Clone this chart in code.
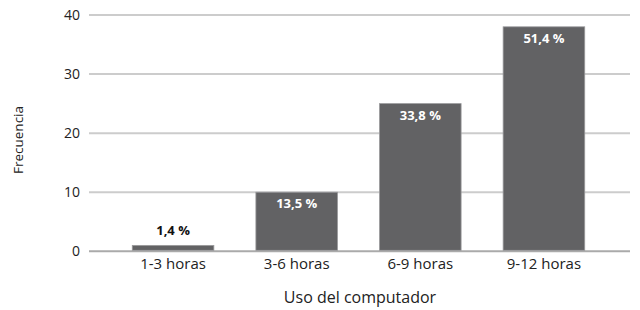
<!DOCTYPE html>
<html>
<head>
<meta charset="utf-8">
<script src="https://cdn.jsdelivr.net/npm/d3@7"></script>
<style>
  body { margin: 0; background: #fff; }
  text { font-family: "Open Sans", "Noto Sans", sans-serif; }
</style>
</head>
<body>
<div id="chart"></div>
<script>
// data
var categories = ["1-3 horas", "3-6 horas", "6-9 horas", "9-12 horas"];
var frecuencia = [1, 10, 25, 38];
var porcentajes = ["1,4 %", "13,5 %", "33,8 %", "51,4 %"];
var yTicks = [0, 10, 20, 30, 40];

var width = 640, height = 310;
var margin = { top: 15, right: 10, bottom: 59, left: 89 };

var svg = d3
  .select("#chart")
  .append("svg")
  .attr("width", width)
  .attr("height", height);

var x = d3
  .scaleBand()
  .domain(categories)
  .range([margin.left, 628])
  .paddingInner(0.34)
  .paddingOuter(0.35);

var y = d3
  .scaleLinear()
  .domain([0, 40])
  .range([height - margin.bottom + 0.3, margin.top]);

// gridlines
svg
  .append("g")
  .selectAll("line")
  .data(yTicks)
  .enter()
  .append("line")
  .attr("x1", margin.left)
  .attr("x2", 630)
  .attr("y1", (d) => y(d))
  .attr("y2", (d) => y(d))
  .attr("stroke", (d) => (d === 0 ? "#aaaaaa" : "#cccccc"))
  .attr("stroke-width", 2);

// y tick labels
svg
  .append("g")
  .selectAll("text")
  .data(yTicks)
  .enter()
  .append("text")
  .attr("x", 80)
  .attr("y", (d) => y(d))
  .attr("dy", "0.35em")
  .attr("text-anchor", "end")
  .attr("font-size", 14)
  .attr("fill", "#222")
  .text((d) => d);

// bars
svg
  .append("g")
  .selectAll("rect")
  .data(frecuencia)
  .enter()
  .append("rect")
  .attr("x", (d, i) => x(categories[i]))
  .attr("width", x.bandwidth())
  .attr("y", (d) => y(d))
  .attr("height", (d) => y(0) - 1 - y(d))
  .attr("fill", "#626264")
  .attr("stroke", "#9a9a9c")
  .attr("stroke-width", 0.8);

// bar labels
svg
  .append("g")
  .selectAll("text")
  .data(frecuencia)
  .enter()
  .append("text")
  .attr("x", (d, i) => x(categories[i]) + x.bandwidth() / 2)
  .attr("y", (d) => (d < 5 ? y(d) - 10 : y(d) + 16))
  .attr("text-anchor", "middle")
  .attr("font-size", 13)
  .attr("font-weight", "bold")
  .attr("fill", (d) => (d < 5 ? "#111" : "#fff"))
  .text((d, i) => porcentajes[i]);

// category labels
svg
  .append("g")
  .selectAll("text")
  .data(categories)
  .enter()
  .append("text")
  .attr("x", (d) => x(d) + x.bandwidth() / 2)
  .attr("y", 269)
  .attr("text-anchor", "middle")
  .attr("font-size", 15)
  .attr("fill", "#222")
  .text((d) => d);

// axis titles
svg
  .append("text")
  .attr("x", 360)
  .attr("y", 303)
  .attr("text-anchor", "middle")
  .attr("font-size", 16)
  .attr("fill", "#222")
  .text("Uso del computador");

svg
  .append("text")
  .attr("transform", "translate(23,140) rotate(-90)")
  .attr("text-anchor", "middle")
  .attr("font-size", 13.5)
  .attr("fill", "#222")
  .text("Frecuencia");
</script>
</body>
</html>
